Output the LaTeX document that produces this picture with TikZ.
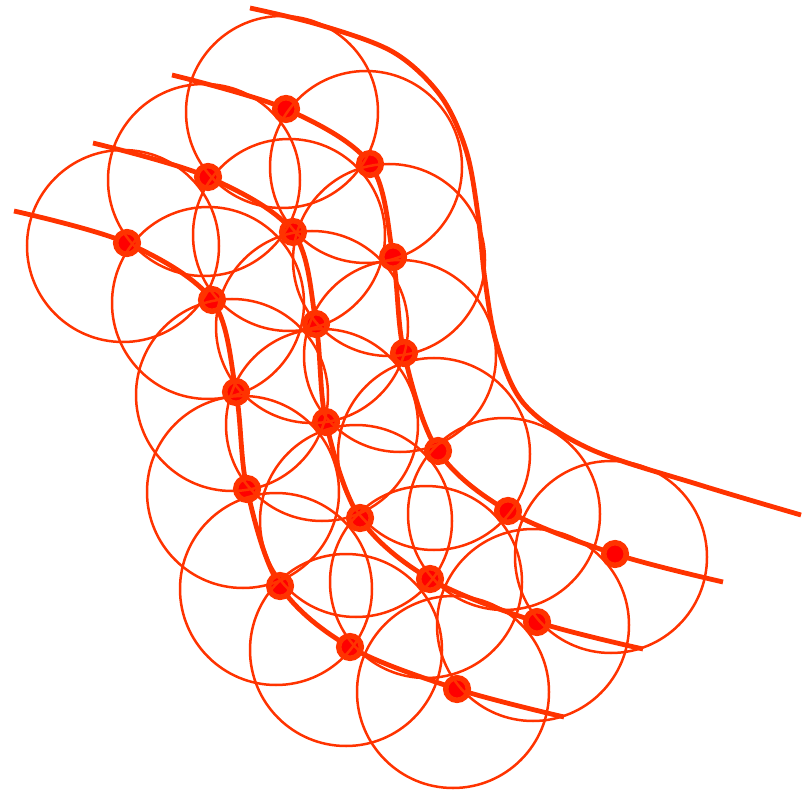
\documentclass[tikz,border=0pt]{standalone}
\usepackage{xcolor}
\usepackage{tikz}
\usetikzlibrary{calc,backgrounds}
\definecolor{strand}{HTML}{FF3300}
\definecolor{beadred}{HTML}{FF0000}

\begin{document}
\begin{tikzpicture}[
  x=1pt, y=-1pt,
  bead/.style={circle, draw=strand, fill=beadred, line width=5.5pt, minimum size=22.6pt, inner sep=0pt},
  hoop/.style={draw=strand, line width=2.5pt},
  thread/.style={draw=strand, line width=4.8pt, smooth, tension=0.55}
]
\useasboundingbox (0,0) rectangle (808,791);
% beads, top strand
\coordinate (a0) at (172,75);
\node[bead] (a1) at (286,109) {};
\node[bead] (a2) at (370,164) {};
\node[bead] (a3) at (393,257) {};
\node[bead] (a4) at (404,353) {};
\node[bead] (a5) at (438,451) {};
\node[bead] (a6) at (508,511) {};
\node[bead] (a7) at (615,554) {};
\coordinate (a8) at (723,582);
% beads, middle strand
\coordinate (b0) at (93,143);
\node[bead] (b1) at (208,177) {};
\node[bead] (b2) at (293,232) {};
\node[bead] (b3) at (316,324) {};
\node[bead] (b4) at (326,422) {};
\node[bead] (b5) at (360,518) {};
\node[bead] (b6) at (430,579) {};
\node[bead] (b7) at (537,622) {};
\coordinate (b8) at (643,649);
% beads, bottom strand
\coordinate (c0) at (14,211);
\node[bead] (c1) at (127,243) {};
\node[bead] (c2) at (212,300) {};
\node[bead] (c3) at (236,392) {};
\node[bead] (c4) at (247,489) {};
\node[bead] (c5) at (280,586) {};
\node[bead] (c6) at (350,647) {};
\node[bead] (c7) at (457,689) {};
\coordinate (c8) at (564,717);
% strands behind the beads
\begin{scope}[on background layer]
\draw[thread] plot coordinates {(250,8) (320,25) (393,52) (440,95) (466,150) (478,215) (485,280) (497,345) (525,405) (590,449) (700,485) (801,515)};
\draw[thread] plot coordinates {(a0) (a1.center) (a2.center) (a3.center) (a4.center) (a5.center) (a6.center) (a7.center) (a8)};
\draw[thread] plot coordinates {(b0) (b1.center) (b2.center) (b3.center) (b4.center) (b5.center) (b6.center) (b7.center) (b8)};
\draw[thread] plot coordinates {(c0) (c1.center) (c2.center) (c3.center) (c4.center) (c5.center) (c6.center) (c7.center) (c8)};
\end{scope}
% hoops round the beads
\draw[hoop] ($(a1)+(-4,3)$) circle[radius=96pt];
\draw[hoop] ($(a2)+(-4,3)$) circle[radius=96pt];
\draw[hoop] ($(a3)+(-4,3)$) circle[radius=96pt];
\draw[hoop] ($(a4)+(-4,3)$) circle[radius=96pt];
\draw[hoop] ($(a5)+(-4,3)$) circle[radius=96pt];
\draw[hoop] ($(a6)+(-4,3)$) circle[radius=96pt];
\draw[hoop] ($(a7)+(-4,3)$) circle[radius=96pt];
\draw[hoop] ($(b1)+(-4,3)$) circle[radius=96pt];
\draw[hoop] ($(b2)+(-4,3)$) circle[radius=96pt];
\draw[hoop] ($(b3)+(-4,3)$) circle[radius=96pt];
\draw[hoop] ($(b4)+(-4,3)$) circle[radius=96pt];
\draw[hoop] ($(b5)+(-4,3)$) circle[radius=96pt];
\draw[hoop] ($(b6)+(-4,3)$) circle[radius=96pt];
\draw[hoop] ($(b7)+(-4,3)$) circle[radius=96pt];
\draw[hoop] ($(c1)+(-4,3)$) circle[radius=96pt];
\draw[hoop] ($(c2)+(-4,3)$) circle[radius=96pt];
\draw[hoop] ($(c3)+(-4,3)$) circle[radius=96pt];
\draw[hoop] ($(c4)+(-4,3)$) circle[radius=96pt];
\draw[hoop] ($(c5)+(-4,3)$) circle[radius=96pt];
\draw[hoop] ($(c6)+(-4,3)$) circle[radius=96pt];
\draw[hoop] ($(c7)+(-4,3)$) circle[radius=96pt];
\end{tikzpicture}
\end{document}
